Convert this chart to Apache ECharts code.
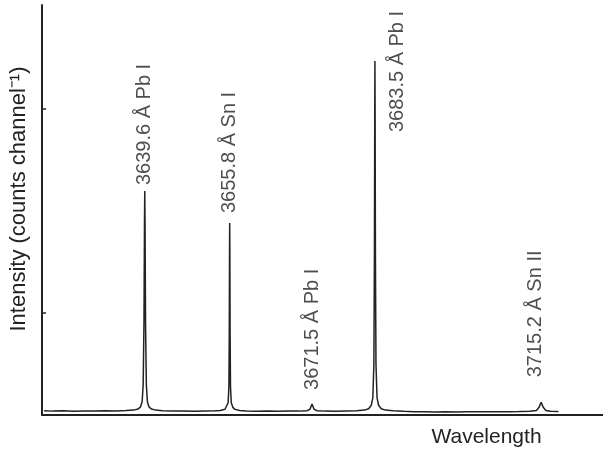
<!DOCTYPE html>
<html>
<head>
<meta charset="utf-8">
<script src="https://cdn.jsdelivr.net/npm/echarts@6/dist/echarts.min.js"></script>
<style>
  html, body { margin: 0; padding: 0; background: #fff; }
  #plot { width: 603px; height: 455px; }
</style>
</head>
<body>
<div id="plot"></div>
<script>
// spectrum trace (wavelength in Å, counts)
const wavelength = [
  3620.4, 3622, 3624, 3626, 3628, 3630, 3632, 3634, 3636, 3637.5,
  3638.3, 3638.8, 3639.1, 3639.3, 3639.45, 3639.55, 3639.6, 3639.65, 3639.75, 3639.9,
  3640.1, 3640.4, 3640.9, 3641.7, 3643, 3645, 3647, 3649, 3651, 3653,
  3654, 3654.9, 3655.2, 3655.5, 3655.65, 3655.72, 3655.77, 3655.8, 3655.83, 3655.88,
  3655.95, 3656.1, 3656.4, 3656.8, 3657.7, 3659, 3661, 3663, 3665, 3667,
  3669, 3670.5, 3671.1, 3671.5, 3671.9, 3672.5, 3674, 3676, 3678, 3680,
  3681.5, 3682.3, 3682.8, 3683.1, 3683.3, 3683.4, 3683.47, 3683.5, 3683.53, 3683.6,
  3683.7, 3683.9, 3684.2, 3684.7, 3685.5, 3687, 3689, 3691, 3693, 3695,
  3697, 3699, 3701, 3703, 3705, 3707, 3709, 3711, 3713, 3714.3,
  3714.8, 3715.2, 3715.6, 3716.1, 3717, 3718.5
]
const counts = [
  42, 38, 41, 37, 40, 39, 42, 40, 44, 48,
  58, 80, 130, 300, 900, 1900, 2196, 1900, 900, 300,
  130, 80, 58, 48, 42, 38, 40, 36, 39, 41,
  45, 56, 75, 120, 280, 800, 1600, 1882, 1600, 800,
  280, 120, 75, 55, 45, 40, 37, 39, 36, 40,
  38, 42, 55, 108, 55, 42, 38, 37, 40, 42,
  48, 62, 95, 170, 500, 1500, 3000, 3470, 3000, 1500,
  500, 170, 95, 62, 48, 42, 37, 33, 32, 30,
  31, 30, 32, 31, 33, 32, 33, 34, 36, 45,
  75, 125, 75, 45, 36, 35
]

// identified lines
const peakWl = [3639.6, 3655.8, 3671.5, 3683.5, 3715.2]
const peakCounts = [2196, 1882, 108, 3470, 125]
const peakNames = ['3639.6 Å Pb I', '3655.8 Å Sn I', '3671.5 Å Pb I', '3683.5 Å Pb I', '3715.2 Å Sn II']

const yTicks = [1000, 3000]

let chart = echarts.init(document.getElementById('plot'))

let traceData = wavelength.map((w, i) => [w, counts[i]])

// label placement tweaks per line (offset is in the rotated frame: [up, right])
let labelTweaks = [
  { distance: 6 },
  { distance: 10 },
  { distance: 14 },
  { distance: 0, offset: [-71, 23] },
  { distance: 25, offset: [0, -6] }
]
let peakData = peakWl.map((w, i) => ({
  value: [w, peakCounts[i]],
  name: peakNames[i],
  label: labelTweaks[i]
}))

let font = '"Liberation Sans", Arial, Helvetica, sans-serif'

let option = {
  animation: false,
  grid: {
    left: 41,
    right: 0,
    top: 5,
    bottom: 40
  },
  xAxis: {
    type: 'value',
    min: 3620,
    max: 3727,
    name: 'Wavelength',
    nameLocation: 'middle',
    nameGap: 12,
    nameTextStyle: {
      fontFamily: font,
      fontSize: 21,
      color: '#222',
      padding: [0, 0, 0, 328]
    },
    axisLine: { lineStyle: { color: '#222', width: 2 } },
    axisTick: { show: false },
    axisLabel: { show: false },
    splitLine: { show: false }
  },
  yAxis: {
    type: 'value',
    min: 0,
    max: 4020,
    name: 'Intensity (counts channel⁻¹)',
    nameLocation: 'middle',
    nameGap: 12,
    nameTextStyle: {
      fontFamily: font,
      fontSize: 22,
      color: '#222',
      padding: [0, 0, 0, 22]
    },
    axisLine: { show: true, lineStyle: { color: '#222', width: 2 } },
    axisTick: {
      show: true,
      inside: true,
      length: 4,
      customValues: yTicks,
      lineStyle: { color: '#222', width: 1.5 }
    },
    axisLabel: { show: false },
    splitLine: { show: false }
  },
  series: [
    {
      type: 'line',
      data: traceData,
      showSymbol: false,
      lineStyle: { color: '#222', width: 1.5 },
      z: 3
    },
    {
      type: 'scatter',
      data: peakData,
      symbolSize: 0,
      silent: true,
      label: {
        show: true,
        position: 'top',
        rotate: 90,
        align: 'left',
        verticalAlign: 'middle',
        formatter: p => p.name,
        fontFamily: font,
        fontSize: 20,
        color: '#222'
      }
    }
  ]
}
chart.setOption(option)
</script>
</body>
</html>
